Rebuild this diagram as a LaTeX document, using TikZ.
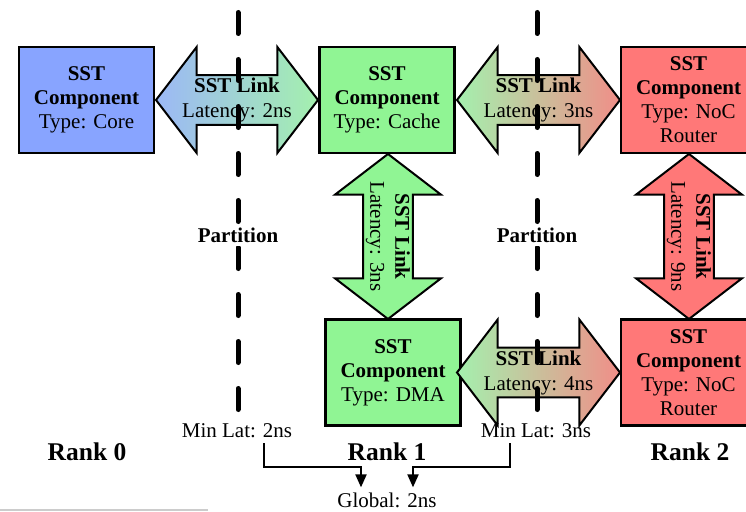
\documentclass[tikz,border=0pt]{standalone}
\usepackage{fontspec}
\setmainfont{Liberation Serif}
\usetikzlibrary{shapes.arrows,arrows.meta}

\definecolor{coreblue}{RGB}{136,164,255}
\definecolor{compgreen}{RGB}{144,245,148}
\definecolor{compred}{RGB}{255,120,120}
\definecolor{linkblue}{RGB}{156,184,246}
\definecolor{linkgreen}{RGB}{164,240,174}
\definecolor{linkred}{RGB}{240,142,136}

\tikzset{
  txt/.style={font=\fontsize{21}{24}\selectfont},
  comp/.style={draw=black, line width=2.5pt, minimum width=135pt,
    minimum height=106pt, align=center, inner sep=0pt, txt},
  link/.style={shape=double arrow, draw=black, line width=2pt, inner sep=0pt,
    minimum width=106pt, double arrow head extend=26pt,
    double arrow tip angle=105, align=center,
    font=\fontsize{21}{25}\selectfont},
  partition/.style={line width=5pt, line cap=round, dash pattern=on 21pt off 26pt},
  partlabel/.style={fill=white, inner sep=3pt, font=\fontsize{21}{24}\selectfont\bfseries},
  ranklabel/.style={inner sep=0pt, font=\fontsize{25.5}{30}\selectfont\bfseries},
  latlabel/.style={txt, inner sep=0pt},
  flow/.style={line width=2pt, -{Triangle[length=13pt,width=11pt]}},
}

\begin{document}
\begin{tikzpicture}[x=1pt,y=-1pt]
\useasboundingbox (0,0) rectangle (746,511);
\clip (0,0) rectangle (746,511);

% components
\node[comp, fill=coreblue]  (core)  at (86.5,100)  {\textbf{SST}\\\textbf{Component}\\Type: Core};
\node[comp, fill=compgreen] (cache) at (387,100)   {\textbf{SST}\\\textbf{Component}\\Type: Cache};
\node[comp, fill=compred]   (noc1)  at (688.5,100) {\textbf{SST}\\\textbf{Component}\\Type: NoC\\Router};
\node[comp, fill=compgreen] (dma)   at (393,372.5) {\textbf{SST}\\\textbf{Component}\\Type: DMA};
\node[comp, fill=compred]   (noc2)  at (688.5,372.5) {\textbf{SST}\\\textbf{Component}\\Type: NoC\\Router};

% links between components
\node[link, minimum height=162pt, left color=linkblue, right color=linkgreen]
  (l1) at (237,100) {\textbf{SST Link}\\Latency: 2ns};
\node[link, minimum height=163pt, left color=linkgreen, right color=linkred]
  (l2) at (538.5,100) {\textbf{SST Link}\\Latency: 3ns};
\node[link, minimum height=163pt, left color=linkgreen, right color=linkred]
  (l4) at (538.5,372.5) {\textbf{SST Link}\\Latency: 4ns};
\node[link, rotate=-90, minimum height=165pt, fill=compgreen]
  (l3) at (388,236.5) {\textbf{SST Link}\\Latency: 3ns};
\node[link, rotate=-90, minimum height=165pt, fill=compred]
  (l5) at (689,236.5) {\textbf{SST Link}\\Latency: 9ns};

% partition boundaries
\coordinate (p1a) at (238,12.5);
\coordinate (p1b) at (238,410);
\coordinate (p2a) at (537,12.5);
\coordinate (p2b) at (537,410);
\draw[partition] (p1a) -- (p1b);
\draw[partition] (p2a) -- (p2b);
\node[partlabel] (part1) at (238,235.5) {Partition};
\node[partlabel] (part2) at (537,235.5) {Partition};

% ranks
\node[ranklabel] (rank0) at (87,452)  {Rank 0};
\node[ranklabel] (rank1) at (387,452) {Rank 1};
\node[ranklabel] (rank2) at (690,452) {Rank 2};

% minimum latencies and the global value
\node[latlabel] (min2)   at (237,431) {Min Lat: 2ns};
\node[latlabel] (min3)   at (536,431) {Min Lat: 3ns};
\node[latlabel] (global) at (387,500) {Global: 2ns};
\draw[flow] ([xshift=27pt,yshift=-5pt]min2.south) -- ++(0,24)
  -| ([xshift=-26pt,yshift=5pt]global.north);
\draw[flow] ([xshift=-26pt,yshift=-5pt]min3.south) -- ++(0,24)
  -| ([xshift=26pt,yshift=5pt]global.north);

% thin rule along the lower left edge
\fill[black!20] (0,508.5) rectangle (208,511);
\end{tikzpicture}
\end{document}
